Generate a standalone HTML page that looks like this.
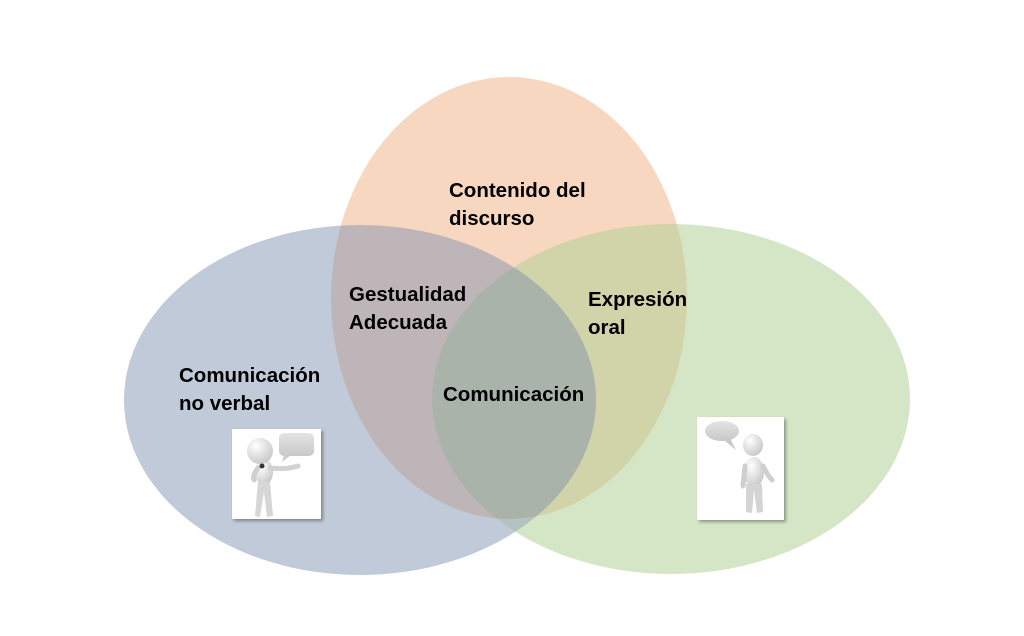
<!DOCTYPE html>
<html>
<head>
<meta charset="utf-8">
<style>
html,body{margin:0;padding:0;background:#fff;}
body{width:1024px;height:636px;overflow:hidden;position:relative;}
svg{position:absolute;left:0;top:0;}
.t{font-family:"Liberation Sans",Arial,sans-serif;font-weight:bold;font-size:20.5px;fill:#000;}
</style>
</head>
<body>
<svg width="1024" height="636" viewBox="0 0 1024 636" xmlns="http://www.w3.org/2000/svg">
<defs>
  <clipPath id="cb"><ellipse cx="360" cy="400" rx="236" ry="175"/></clipPath>
  <clipPath id="co"><ellipse cx="509" cy="298" rx="178" ry="221"/></clipPath>
  <clipPath id="cg"><ellipse cx="671" cy="399" rx="239" ry="175"/></clipPath>
  <radialGradient id="skin" cx="0.35" cy="0.3" r="0.8">
    <stop offset="0" stop-color="#ffffff"/>
    <stop offset="1" stop-color="#c4c4c4"/>
  </radialGradient>
  <linearGradient id="bub" x1="0" y1="0" x2="0" y2="1">
    <stop offset="0" stop-color="#e4e4e4"/>
    <stop offset="1" stop-color="#c8c8c8"/>
  </linearGradient>
  <filter id="sh" x="-10%" y="-10%" width="130%" height="130%">
    <feDropShadow dx="2" dy="2" stdDeviation="1.5" flood-color="#000" flood-opacity="0.35"/>
  </filter>
</defs>

<!-- base ellipses -->
<ellipse cx="360" cy="400" rx="236" ry="175" fill="#c1cad8"/>
<ellipse cx="671" cy="399" rx="239" ry="175" fill="#d4e6c6"/>
<ellipse cx="509" cy="298" rx="178" ry="221" fill="#f8d7c0"/>

<!-- pairwise overlaps -->
<g clip-path="url(#cb)"><ellipse cx="509" cy="298" rx="178" ry="221" fill="#bdb5b7"/></g>
<g clip-path="url(#cg)"><ellipse cx="509" cy="298" rx="178" ry="221" fill="#d1d4a8"/></g>
<g clip-path="url(#cg)"><ellipse cx="360" cy="400" rx="236" ry="175" fill="#b4c3c1"/></g>
<!-- triple -->
<g clip-path="url(#cg)"><g clip-path="url(#co)"><ellipse cx="360" cy="400" rx="236" ry="175" fill="#a9b3a9"/></g></g>

<!-- labels -->
<text class="t" x="449" y="197">Contenido del</text>
<text class="t" x="449" y="225">discurso</text>
<text class="t" x="349" y="301">Gestualidad</text>
<text class="t" x="349" y="329">Adecuada</text>
<text class="t" x="588" y="306">Expresión</text>
<text class="t" x="588" y="334">oral</text>
<text class="t" x="443" y="401">Comunicación</text>
<text class="t" x="179" y="382">Comunicación</text>
<text class="t" x="179" y="410">no verbal</text>

<!-- left picture -->
<g filter="url(#sh)"><rect x="232" y="429" width="89" height="90" fill="#ffffff"/></g>
<g>
  <!-- speech bubble -->
  <rect x="279" y="433" width="35" height="23" rx="5" fill="url(#bub)"/>
  <path d="M284 455 L282 462 L291 455 Z" fill="#cccccc"/>
  <!-- body -->
  <ellipse cx="264" cy="472" rx="9" ry="13" fill="url(#skin)"/>
  <path d="M258 482 L255 516 L260 517 L264 492 L267 517 L273 516 L270 482 Z" fill="#d6d6d6"/>
  <path d="M270 468 Q285 470 298 466" stroke="#d2d2d2" stroke-width="5" fill="none" stroke-linecap="round"/>
  <path d="M258 468 Q252 476 254 480" stroke="#cfcfcf" stroke-width="5" fill="none" stroke-linecap="round"/>
  <circle cx="260" cy="451" r="13" fill="url(#skin)"/>
  <circle cx="262" cy="466" r="2.5" fill="#333"/>
</g>

<!-- right picture -->
<g filter="url(#sh)"><rect x="697" y="417" width="87" height="103" fill="#ffffff"/></g>
<g>
  <ellipse cx="722" cy="431" rx="17" ry="10" fill="url(#bub)"/>
  <path d="M730 438 L736 450 L724 440 Z" fill="#c8c8c8"/>
  <ellipse cx="754" cy="472" rx="10" ry="15" fill="url(#skin)"/>
  <path d="M746 484 L746 512 L752 513 L754 490 L757 513 L763 512 L762 484 Z" fill="#d4d4d4"/>
  <path d="M745 466 L743 486" stroke="#cfcfcf" stroke-width="5" stroke-linecap="round"/>
  <path d="M763 466 Q768 476 772 480" stroke="#cfcfcf" stroke-width="5" fill="none" stroke-linecap="round"/>
  <ellipse cx="753" cy="445" rx="10" ry="11" fill="url(#skin)"/>
</g>
</svg>
</body>
</html>
